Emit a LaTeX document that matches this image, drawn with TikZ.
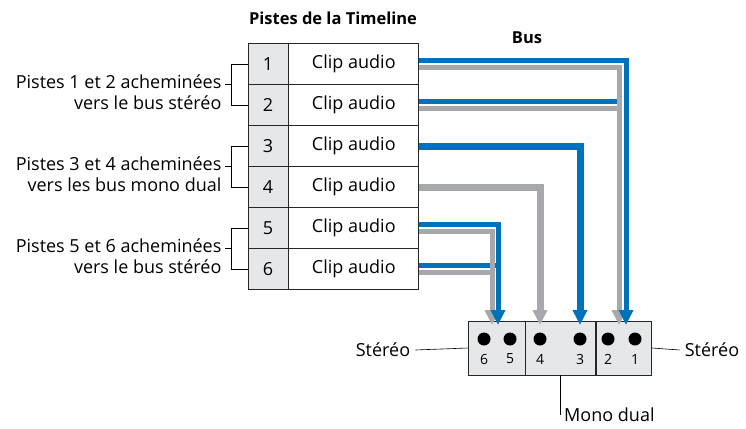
\documentclass[tikz,border=0pt]{standalone}
\usepackage{fontspec}
\setmainfont{Open Sans}
\usetikzlibrary{arrows.meta,positioning,calc}
\definecolor{busblue}{RGB}{0,114,188}
\definecolor{busgray}{RGB}{166,168,171}
\definecolor{numgray}{RGB}{230,231,232}
\begin{document}
\begin{tikzpicture}[x=1pt,y=-1pt,
  every node/.style={font=\fontsize{18}{21}\selectfont,inner sep=0pt},%
  num/.style={draw=black!85,thick,fill=numgray,minimum width=40pt,minimum height=41pt},%
  clip/.style={draw=black!85,thick,fill=white,minimum width=130pt,minimum height=41pt},%
  bl/.style={draw=busblue,line width=5pt},%
  gr/.style={draw=busgray,line width=5pt},%
  blt/.style={bl,line width=7pt},%
  grt/.style={gr,line width=7pt},%
  tip/.style={-{Triangle[length=15pt,width=14pt]}},%
  port/.style={draw=black!85,thick,fill=numgray,minimum height=54pt},%
  dot/.style={circle,fill=black,minimum size=13pt},%
  lbl/.style={align=right},%
  thin/.style={draw=black,semithick}
  ]
  \useasboundingbox (0,0) rectangle (746,428);
  \node[font=\bfseries\fontsize{16.5}{20}\selectfont] (title) at (333,18) {Pistes de la Timeline};
  \node[font=\bfseries\fontsize{16.5}{20}\selectfont] (bus) at (527,38) {Bus};
  % tracks
  \foreach \i in {1,...,6}{
    \node[num] (n\i) at (268,{64+41*(\i-1)}) {\i};
    \node[clip,right=0pt of n\i] (c\i) {Clip audio};
  }
  % bus box
  \node[port,minimum width=57pt] (pa) at (496.5,348) {};
  \node[port,minimum width=70pt,right=0pt of pa] (pb) {};
  \node[port,minimum width=55pt,right=0pt of pb] (pc) {};
  \foreach \x/\n in {484/6,510/5,540/4,580/3,608/2,635/1}{
    \node[dot] (d\n) at (\x,339) {};
    \node[font=\fontsize{14}{16}\selectfont] (t\n) at (\x,359) {\n};
  }
  \coordinate (a5) at (498,325);
  \coordinate (a6) at (492,325);
  \coordinate (a4) at (540,325);
  \coordinate (a3) at (580,325);
  \coordinate (a2) at (619,325);
  \coordinate (a1) at (626,325);
  % routes
  \draw[gr] ($(c2.east)+(0,3.5)$) -| ($(a2)+(0,-60)$);
  \draw[bl] ($(c2.east)+(0,-3.5)$) -- ++(199,0);
  \draw[gr,tip] ($(c1.east)+(0,3.5)$) -| (a2);
  \draw[bl,tip] ($(c1.east)+(0,-3.5)$) -| (a1);
  \draw[blt,tip] (c3.east) -| (a3);
  \draw[grt,tip] (c4.east) -| (a4);
  \draw[gr] ($(c6.east)+(0,3.5)$) -| ($(a6)+(0,-30)$);
  \draw[bl] ($(c6.east)+(0,-3.5)$) -- ++(80,0);
  \draw[gr,tip] ($(c5.east)+(0,3.5)$) -| (a6);
  \draw[bl,tip] ($(c5.east)+(0,-3.5)$) -| (a5);
  % left labels
  \foreach \a/\b/\txt in {1/2/{Pistes 1 et 2 acheminées\\vers le bus stéréo},
      3/4/{Pistes 3 et 4 acheminées\\vers les bus mono dual},
      5/6/{Pistes 5 et 6 acheminées\\vers le bus stéréo}}{
    \draw[thin] (n\a.west) -- ++(-16,0) coordinate (k\a) |- (n\b.west);
    \coordinate (m\a) at ($(k\a)!0.5!(k\a|-n\b.west)$);
    \draw[thin] (m\a) -- ++(-7,0);
    \node[lbl,anchor=north east] (g\a) at ($(m\a)+(-10,-10)$) {\txt};
  }
  % bus labels
  \node (sl) at (383,350) {Stéréo};
  \draw[thin] (sl.east) ++(5,0) -- (pa.west);
  \node (sr) at (712,350) {Stéréo};
  \draw[thin] (pc.east) -- ($(sr.west)+(-5,0)$);
  \coordinate (mono) at (560,415);
  \draw[thin] (mono|-pb.south) -- (mono);
  \node[right=4pt of mono] (ml) {Mono dual};
\end{tikzpicture}
\end{document}
